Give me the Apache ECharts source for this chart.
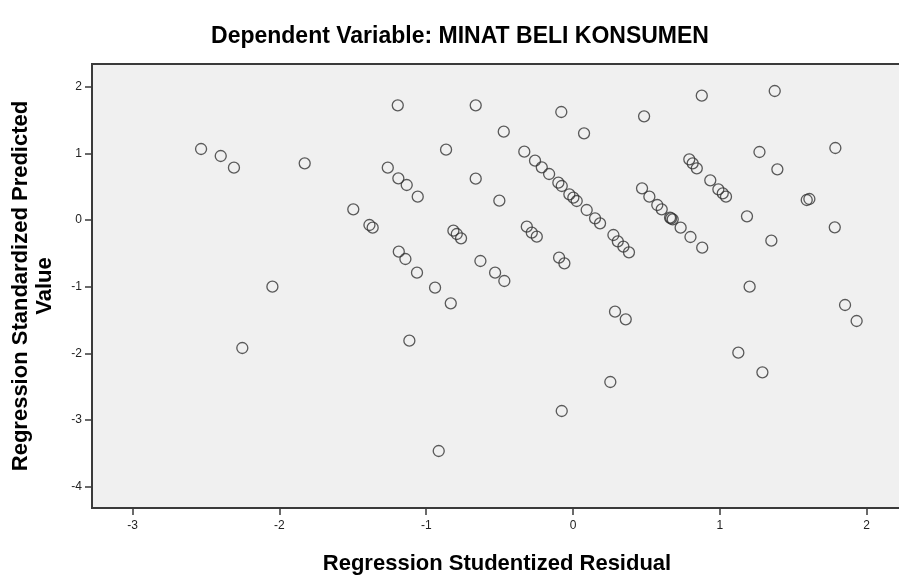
<!DOCTYPE html>
<html>
<head>
<meta charset="utf-8">
<script src="https://cdn.jsdelivr.net/npm/echarts@6/dist/echarts.min.js"></script>
<style>
  html, body { margin: 0; padding: 0; background: #fff; }
  #chart { width: 899px; height: 581px; }
</style>
</head>
<body>
<div id="chart"></div>
<script>
// studentized residual (x) and standardized predicted value (y)
var residual = [
  -2.534, -2.40, -2.31, -1.828, -1.497, -2.048, -2.253, -1.194, -0.663, -0.08,
  0.075, -0.472, -0.865, -0.332, -0.259, -0.213, -0.163, -0.10, -0.077, -0.025,
  0.002, 0.025, 0.093, 0.15, 0.184, 0.275, 0.305, 0.343, 0.381, -1.262,
  -1.19, -1.133, -1.058, -0.663, -0.502, -1.387, -1.365, -0.815, -0.792, -0.763,
  -0.315, -0.281, -0.247, -1.187, -1.142, -1.063, -0.94, -0.631, -0.531, -0.468,
  -0.095, -0.059, 0.484, 0.877, 1.374, 1.27, 1.392, 1.787, 0.792, 0.815,
  0.843, 0.935, 0.99, 1.02, 1.042, 0.47, 0.52, 0.574, 0.604, 0.661,
  0.679, 0.733, 0.80, 0.88, 1.185, 1.592, 1.61, 1.783, 1.351, 1.203,
  -0.833, -1.115, 0.286, 0.359, 0.254, -0.077, -0.915, 1.126, 1.29, 1.853,
  1.932, 0.668
];
var predicted = [
  1.065, 0.96, 0.785, 0.85, 0.16, -1.00, -1.92, 1.72, 1.72, 1.62,
  1.30, 1.325, 1.055, 1.025, 0.89, 0.79, 0.69, 0.56, 0.51, 0.385,
  0.335, 0.285, 0.15, 0.025, -0.05, -0.225, -0.32, -0.40, -0.485, 0.785,
  0.625, 0.525, 0.35, 0.62, 0.29, -0.075, -0.115, -0.16, -0.21, -0.275,
  -0.10, -0.19, -0.25, -0.475, -0.585, -0.79, -1.015, -0.615, -0.79, -0.915,
  -0.565, -0.65, 1.555, 1.865, 1.935, 1.02, 0.76, 1.08, 0.91, 0.85,
  0.775, 0.595, 0.46, 0.40, 0.35, 0.475, 0.35, 0.225, 0.16, 0.035,
  0.01, -0.115, -0.255, -0.415, 0.055, 0.30, 0.315, -0.11, -0.31, -1.00,
  -1.25, -1.81, -1.375, -1.49, -2.43, -2.865, -3.465, -1.99, -2.285, -1.275,
  -1.515, 0.025
];
var xTicks = [-3, -2, -1, 0, 1, 2];
var yTicks = [-4, -3, -2, -1, 0, 1, 2];

var points = residual.map(function (r, i) { return [r, predicted[i]]; });

var font = 'Liberation Sans, Arial, sans-serif';
var chart = echarts.init(document.getElementById('chart'));
var option = {
  backgroundColor: '#ffffff',
  animation: false,
  title: {
    text: 'Dependent Variable: MINAT BELI KONSUMEN',
    left: 455,
    textAlign: 'center',
    top: 20,
    textStyle: { fontFamily: font, fontSize: 23, fontWeight: 'bold', color: '#000' }
  },
  grid: {
    left: 92,
    top: 64,
    width: 810,
    height: 444,
    outerBoundsMode: 'none',
    containLabel: false,
    show: true,
    backgroundColor: '#f0f0f0',
    borderColor: '#3a3a3a',
    borderWidth: 2
  },
  xAxis: {
    type: 'value',
    min: -3.277,
    max: 2.241,
    name: 'Regression Studentized Residual',
    nameLocation: 'middle',
    nameGap: 45,
    nameTextStyle: { fontFamily: font, fontSize: 22, fontWeight: 'bold', color: '#000' },
    splitLine: { show: false },
    axisLine: { show: true, onZero: false, lineStyle: { color: '#3a3a3a', width: 2 } },
    axisTick: { show: true, customValues: xTicks, length: 7, lineStyle: { color: '#3a3a3a', width: 1.5 } },
    axisLabel: { customValues: xTicks, margin: 12, fontFamily: font, fontSize: 12, color: '#222' }
  },
  yAxis: {
    type: 'value',
    min: -4.32,
    max: 2.34,
    name: 'Regression Standardized Predicted\nValue',
    nameLocation: 'middle',
    nameRotate: 90,
    nameGap: 35,
    nameTextStyle: { fontFamily: font, fontSize: 22, fontWeight: 'bold', color: '#000', lineHeight: 24 },
    splitLine: { show: false },
    axisLine: { show: true, onZero: false, lineStyle: { color: '#3a3a3a', width: 2 } },
    axisTick: { show: true, customValues: yTicks, length: 7, lineStyle: { color: '#3a3a3a', width: 1.5 } },
    axisLabel: { customValues: yTicks, margin: 10, fontFamily: font, fontSize: 12, color: '#222' }
  },
  series: [{
    type: 'scatter',
    data: points,
    symbol: 'circle',
    symbolSize: 11,
    itemStyle: { color: 'rgba(0,0,0,0)', borderColor: '#333', borderWidth: 1.3 }
  }]
};
chart.setOption(option);
</script>
</body>
</html>
